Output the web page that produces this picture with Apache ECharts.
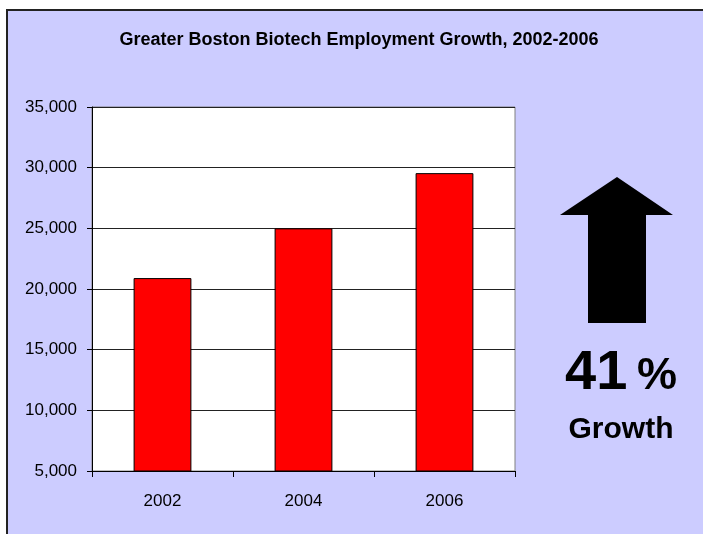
<!DOCTYPE html>
<html>
<head>
<meta charset="utf-8">
<script src="https://cdn.jsdelivr.net/npm/echarts@6/dist/echarts.min.js"></script>
<style>
html,body{margin:0;padding:0;background:#fff;}
#chart{width:703px;height:534px;}
</style>
</head>
<body>
<div id="chart"></div>
<script>
var categories = ['2002', '2004', '2006'];
var employment = [20900, 25000, 29550];
var yTicks = [5000, 10000, 15000, 20000, 25000, 30000, 35000];
var titleText = 'Greater Boston Biotech Employment Growth, 2002-2006';
var growthPct = '41';
var growthLabel = 'Growth';

var FONT = '"Liberation Sans", Arial, sans-serif';
var chart = echarts.init(document.getElementById('chart'), null, {renderer: 'canvas'});

function fmt(v) { return String(v).replace(/\B(?=(\d{3})+(?!\d))/g, ','); }

var option = {
  backgroundColor: '#ffffff',
  animation: false,
  graphic: [
    {type: 'rect', z: -100, shape: {x: 7, y: 10, width: 720, height: 560},
     style: {fill: '#ccccff', stroke: '#222', lineWidth: 2}},
    {type: 'text', z: 10, x: 359, y: 40,
     style: {text: titleText, font: 'bold 18px ' + FONT, fill: '#000', align: 'center', verticalAlign: 'middle'}},
    {type: 'polygon', z: 10,
     shape: {points: [[617, 177], [673, 215], [646, 215], [646, 323], [588, 323], [588, 215], [560, 215]]},
     style: {fill: '#000'}},
    {type: 'text', z: 10, x: 565, y: 374,
     style: {text: growthPct, font: 'bold 56px ' + FONT, fill: '#000', align: 'left', verticalAlign: 'middle'}},
    {type: 'text', z: 10, x: 637, y: 377,
     style: {text: '%', font: 'bold 45px ' + FONT, fill: '#000', align: 'left', verticalAlign: 'middle'}},
    {type: 'text', z: 10, x: 621, y: 430,
     style: {text: growthLabel, font: 'bold 30px ' + FONT, fill: '#000', align: 'center', verticalAlign: 'middle'}}
  ],
  grid: {
    left: 92, right: 188, top: 107, bottom: 63,
    show: true, backgroundColor: '#ffffff', borderColor: '#808080', borderWidth: 1
  },
  xAxis: {
    type: 'category',
    data: categories,
    axisLine: {lineStyle: {color: '#000', width: 1}},
    axisTick: {show: true, length: 6, lineStyle: {color: '#000'}},
    axisLabel: {color: '#000', fontSize: 17, fontFamily: FONT, margin: 22}
  },
  yAxis: {
    type: 'value',
    min: yTicks[0], max: yTicks[yTicks.length - 1], interval: 5000,
    axisLine: {show: true, lineStyle: {color: '#000', width: 1}},
    axisTick: {show: true, length: 5, lineStyle: {color: '#000'}},
    axisLabel: {color: '#000', fontSize: 17, fontFamily: FONT, margin: 15, formatter: fmt},
    splitLine: {show: true, lineStyle: {color: '#222', width: 1}}
  },
  series: [{
    type: 'bar',
    data: employment,
    barWidth: '41%',
    itemStyle: {color: '#ff0000', borderColor: '#000', borderWidth: 1}
  }]
};
chart.setOption(option);
</script>
</body>
</html>
